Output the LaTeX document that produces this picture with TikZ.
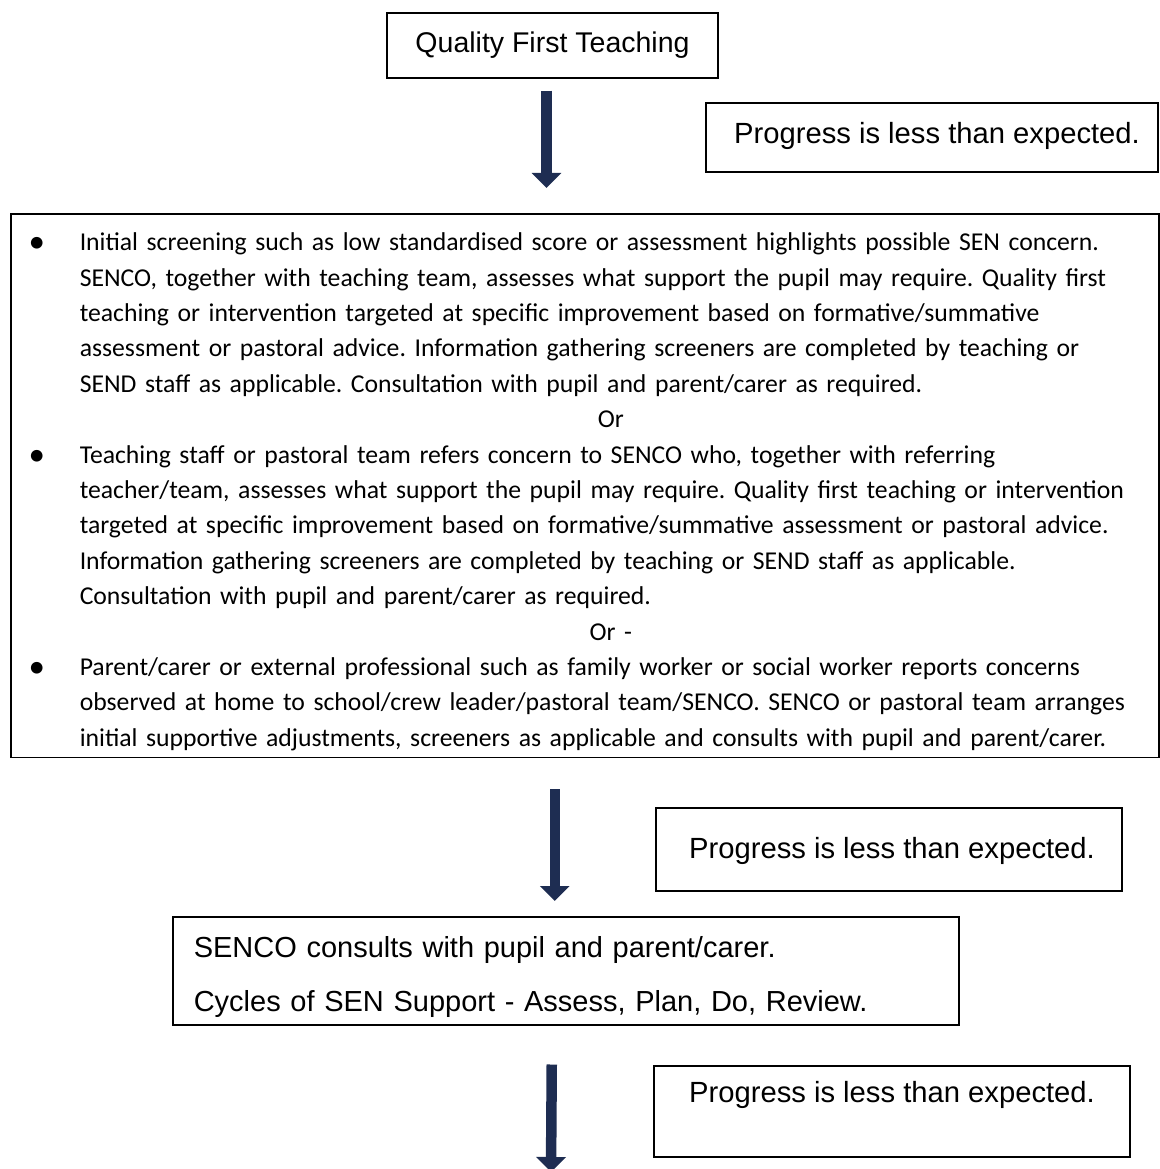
\documentclass[tikz,border=0pt]{standalone}
\usepackage{fontspec}
\setmainfont{Liberation Sans}
\newfontfamily\calibrifont{Carlito}
\usetikzlibrary{arrows.meta,calc}
\definecolor{arrownavy}{RGB}{30,45,82}
\newcommand{\bigbullet}{\makebox[52pt][c]{\raisebox{-2pt}{\fontsize{33}{33}\selectfont\textbullet}}\hspace*{17pt}}
\newcommand{\indentline}{\hspace*{69pt}}
\begin{document}
\begin{tikzpicture}[x=1pt,y=-1pt,
  box/.style={draw=black, line width=1.5pt, inner sep=0pt},
  arialtext/.style={font=\fontsize{29.2}{34}\selectfont},
  bodytext/.style={font=\calibrifont\fontsize{25.7}{35.4}\selectfont\frenchspacing},
  bigarrow/.style={draw=arrownavy, line width=10.5pt, -{Triangle[length=15pt,width=29pt]}}]
\useasboundingbox (0,0) rectangle (1159,1169);

% boxes
\node[box, font=\fontsize{28.5}{34}\selectfont, minimum width=331pt, minimum height=65pt,
      text height=40pt, text depth=25pt] (qft) at (552.5,45.5) {Quality First Teaching};
\node[box, arialtext, minimum width=452pt, minimum height=69pt,
      text height=41pt, text depth=28pt] (prog1) at (932,137.5) {\hspace*{10pt}Progress is less than expected.};

\node[box, bodytext, anchor=north west, text width=1148pt, align=left] (screen) at (10,213) {%
\rule{0pt}{37pt}\bigbullet Initial screening such as low standardised score or assessment highlights possible SEN concern.\\
\indentline SENCO, together with teaching team, assesses what support the pupil may require. Quality first\\
\indentline teaching or intervention targeted at specific improvement based on formative/summative\\
\indentline assessment or pastoral advice. Information gathering screeners are completed by teaching or\\
\indentline SEND staff as applicable. Consultation with pupil and parent/carer as required.\\
\indentline\makebox[1062pt][c]{Or}\\
\bigbullet Teaching staff or pastoral team refers concern to SENCO who, together with referring\\
\indentline teacher/team, assesses what support the pupil may require. Quality first teaching or intervention\\
\indentline targeted at specific improvement based on formative/summative assessment or pastoral advice.\\
\indentline Information gathering screeners are completed by teaching or SEND staff as applicable.\\
\indentline Consultation with pupil and parent/carer as required.\\
\indentline\makebox[1062pt][c]{Or -}\\
\bigbullet Parent/carer or external professional such as family worker or social worker reports concerns\\
\indentline observed at home to school/crew leader/pastoral team/SENCO. SENCO or pastoral team arranges\\
\indentline initial supportive adjustments, screeners as applicable and consults with pupil and parent/carer.\rule[-11pt]{0pt}{11pt}};

\node[box, arialtext, minimum width=466pt, minimum height=83pt,
      text height=50pt, text depth=33pt] (prog3) at (889,849.5) {\hspace*{6pt}Progress is less than expected.};

\node[box, anchor=north west, inner xsep=21pt, inner ysep=0pt, text width=744pt, align=left,
      font=\fontsize{29}{54}\selectfont] (senco) at (172,916) {%
\rule{0pt}{41pt}SENCO consults with pupil and parent/carer.\\
Cycles of SEN Support - Assess, Plan, Do, Review.\rule[-13pt]{0pt}{13pt}};

\node[box, arialtext, minimum width=476pt, minimum height=91pt,
      text height=36pt, text depth=55pt] (prog5) at (892,1111.5) {Progress is less than expected.};

\coordinate (exitpt) at (551,1172);

% arrows
\draw[bigarrow] ($(qft.south)+(-6,12)$) -- ($(qft.south |- screen.north)+(-6,-25)$);
\draw[bigarrow] ($(screen.south -| senco.north)+(-11,31)$) -- ($(senco.north)+(-11,-15)$);
\draw[bigarrow] ($(senco.south)+(-14,39)$) -- (exitpt);
\end{tikzpicture}
\end{document}
